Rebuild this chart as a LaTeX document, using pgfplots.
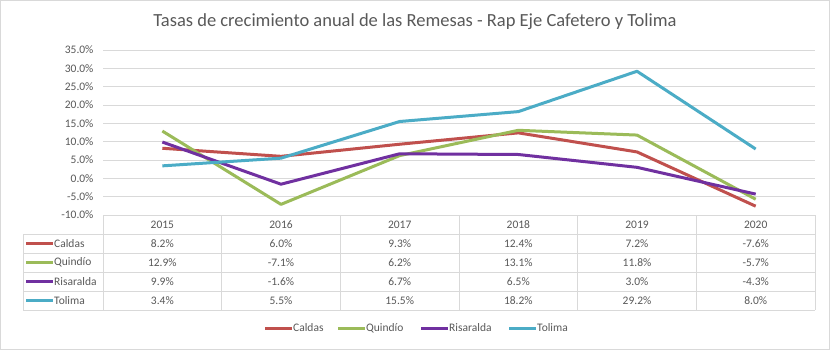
\documentclass[border=0pt]{standalone}
\usepackage{pgfplots}
\pgfplotsset{compat=1.18}
\usepackage{fontspec}
\setmainfont{Carlito}
\definecolor{txt}{HTML}{595959}
\definecolor{gridc}{HTML}{D9D9D9}
\definecolor{cal}{HTML}{C0504D}
\definecolor{qui}{HTML}{9BBB59}
\definecolor{ris}{HTML}{7030A0}
\definecolor{tol}{HTML}{4BACC6}
\begin{document}
\begin{tikzpicture}[x=1pt,y=1pt]
\fill[white] (0,0) rectangle (830,-350);
\draw[gridc, line width=1pt] (0.5,-0.5) rectangle (829.5,-349.5);
\node[text=txt, font=\fontsize{18.5}{22}\selectfont] at (415,-22) {Tasas de crecimiento anual de las Remesas - Rap Eje Cafetero y Tolima};
\begin{axis}[at={(103pt,-215pt)}, anchor=south west, scale only axis,
  width=712pt, height=165pt, xmin=-0.5, xmax=5.5, ymin=-10, ymax=35,
  ytick={-10,-5,...,35}, xtick=\empty, ymajorgrids,
  major grid style={gridc, line width=0.8pt},
  axis line style={draw=none}, tick style={draw=none},
  yticklabel style={font=\fontsize{11.5}{13}\selectfont, text=txt, xshift=-6pt},
  /pgf/number format/assume math mode=true,
  yticklabel={\pgfmathprintnumber[fixed, fixed zerofill, precision=1]{\tick}\%},
  every axis plot/.append style={line width=3pt, line join=round, no markers},
  clip=false]
\addplot[cal] coordinates {(0,8.2) (1,6.0) (2,9.3) (3,12.4) (4,7.2) (5,-7.6)};
\addplot[qui] coordinates {(0,12.9) (1,-7.1) (2,6.2) (3,13.1) (4,11.8) (5,-5.7)};
\addplot[ris] coordinates {(0,9.9) (1,-1.6) (2,6.7) (3,6.5) (4,3.0) (5,-4.3)};
\addplot[tol] coordinates {(0,3.4) (1,5.5) (2,15.5) (3,18.2) (4,29.2) (5,8.0)};
\end{axis}
% data table
\foreach \i in {0,...,6} \draw[gridc, line width=0.8pt] ({103+118.667*\i},-215) -- ({103+118.667*\i},-310);
\foreach \y in {234,253,272,291,310} \draw[gridc, line width=0.8pt] (23,-\y) -- (815,-\y);
\draw[gridc, line width=0.8pt] (23,-234) -- (23,-310);
\foreach \yr [count=\i from 0] in {2015,2016,2017,2018,2019,2020}
  \node[text=txt, font=\fontsize{11.5}{13}\selectfont] at ({103+118.667*(\i+0.5)},-224.5) {\yr};
\foreach \nm/\col [count=\r from 0] in {Caldas/cal,Quindío/qui,Risaralda/ris,Tolima/tol}{
  \draw[\col, line width=3pt] (26,{-243.5-19*\r}) -- (53,{-243.5-19*\r});
  \node[text=txt, font=\fontsize{11.5}{13}\selectfont, anchor=west, inner sep=0pt] at (54,{-243.5-19*\r}) {\nm};
}
\foreach \v [count=\i from 0] in {8.2\%,6.0\%,9.3\%,12.4\%,7.2\%,-7.6\%}
  \node[text=txt, font=\fontsize{11.5}{13}\selectfont] at ({103+118.667*(\i+0.5)},-243.5) {\v};
\foreach \v [count=\i from 0] in {12.9\%,-7.1\%,6.2\%,13.1\%,11.8\%,-5.7\%}
  \node[text=txt, font=\fontsize{11.5}{13}\selectfont] at ({103+118.667*(\i+0.5)},-262.5) {\v};
\foreach \v [count=\i from 0] in {9.9\%,-1.6\%,6.7\%,6.5\%,3.0\%,-4.3\%}
  \node[text=txt, font=\fontsize{11.5}{13}\selectfont] at ({103+118.667*(\i+0.5)},-281.5) {\v};
\foreach \v [count=\i from 0] in {3.4\%,5.5\%,15.5\%,18.2\%,29.2\%,8.0\%}
  \node[text=txt, font=\fontsize{11.5}{13}\selectfont] at ({103+118.667*(\i+0.5)},-300.5) {\v};
% legend
\foreach \nm/\col/\xa in {Caldas/cal/265,Quindío/qui/338,Risaralda/ris/421,Tolima/tol/509}{
  \draw[\col, line width=3pt] (\xa,-328) -- ({\xa+27},-328);
  \node[text=txt, font=\fontsize{11.5}{13}\selectfont, anchor=west, inner sep=0pt] at ({\xa+28},-328) {\nm};
}
\useasboundingbox (0,0) rectangle (830,-350);
\end{tikzpicture}
\end{document}
